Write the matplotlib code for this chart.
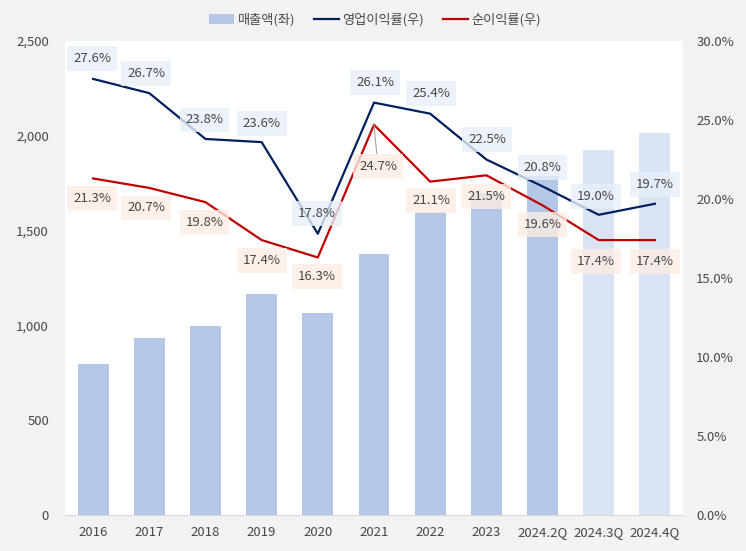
import matplotlib
matplotlib.use("Agg")
import matplotlib.pyplot as plt
from matplotlib.patches import Patch
from matplotlib.lines import Line2D

plt.rcParams['font.family'] = ['Noto Sans CJK KR', 'DejaVu Sans']

categories = ["2016", "2017", "2018", "2019", "2020", "2021", "2022", "2023",
              "2024.2Q", "2024.3Q", "2024.4Q"]
sales = [795, 932, 995, 1168, 1068, 1374, 1600, 1700, 1790, 1926, 2016]
op_margin = [27.6, 26.7, 23.8, 23.6, 17.8, 26.1, 25.4, 22.5, 20.8, 19.0, 19.7]
net_margin = [21.3, 20.7, 19.8, 17.4, 16.3, 24.7, 21.1, 21.5, 19.6, 17.4, 17.4]
forecast = [False] * 9 + [True, True]

left_ticks = [0, 500, 1000, 1500, 2000, 2500]
right_ticks = [0, 5, 10, 15, 20, 25, 30]

BAR = "#b4c7e7"
BAR_F = "#dae3f3"
NAVY = "#002060"
RED = "#c00000"
TXT = "#474747"

fig = plt.figure(figsize=(7.46, 5.51), dpi=100)
fig.patch.set_facecolor("#f2f2f2")
ax = fig.add_axes([65/746, 1-515/551, (683-65)/746, (515-41)/551])
ax.set_facecolor("white")

x = list(range(len(categories)))
colors = [BAR_F if f else BAR for f in forecast]
ax.bar(x, sales, width=0.55, color=colors, zorder=1)
ax.set_xlim(-0.5, len(categories) - 0.5)
ax.set_ylim(0, 2500)
ax.set_yticks(left_ticks)
ax.set_yticklabels([f"{v:,}" for v in left_ticks])
ax.set_xticks(x)
ax.set_xticklabels(categories)
for s in ["top", "right", "left"]:
    ax.spines[s].set_visible(False)
ax.spines["bottom"].set_color("#d9d9d9")
ax.tick_params(axis="both", length=0, labelsize=9.5, colors=TXT)
ax.tick_params(axis="y", pad=11.5)
ax.tick_params(axis="x", pad=8)

ax2 = ax.twinx()
ax2.set_ylim(0, 30)
ax2.set_yticks(right_ticks)
ax2.set_yticklabels([f"{v:.1f}%" for v in right_ticks])
for s in ax2.spines.values():
    s.set_visible(False)
ax2.tick_params(axis="y", length=0, labelsize=9.5, colors=TXT, pad=9.5)

ax2.plot(x, op_margin, color=NAVY, lw=1.6, zorder=3)
ax2.plot(x, net_margin, color=RED, lw=1.6, zorder=3)

px = 0.72  # points per pixel at 100 dpi
op_off = [(-1, 20), (-3, 20), (-1, 19), (0, 19), (-1, 20), (1, 20), (1, 20),
          (1, 20), (0, 19), (-3, 18), (0, 19)]
net_off = [(-1, -20), (-3, -20), (-1, -20), (0, -20), (-1, -19), (4, -42),
           (1, -19), (0, -21), (0, -19), (-3, -21), (0, -21)]

for i, v in enumerate(op_margin):
    dx, dy = op_off[i]
    ax2.annotate(f"{v:.1f}%", (i, v), xytext=(dx*px, dy*px), textcoords="offset points",
                 ha="center", va="center", fontsize=9.5, color=TXT, zorder=5,
                 bbox=dict(boxstyle="square,pad=0.45", fc="#e6eff9", ec="none", alpha=0.8))
for i, v in enumerate(net_margin):
    dx, dy = net_off[i]
    kw = {}
    if dy < -30:
        kw["arrowprops"] = dict(arrowstyle="-", color="#a6a6a6", lw=0.8,
                                shrinkA=0, shrinkB=0)
    ax2.annotate(f"{v:.1f}%", (i, v), xytext=(dx*px, dy*px), textcoords="offset points",
                 ha="center", va="center", fontsize=9.5, color=TXT, zorder=5,
                 bbox=dict(boxstyle="square,pad=0.45", fc="#fcede3", ec="none", alpha=0.8),
                 **kw)

handles = [Patch(facecolor=BAR, edgecolor="none"),
           Line2D([0], [0], color=NAVY, lw=1.6),
           Line2D([0], [0], color=RED, lw=1.6)]
labels = ["매출액(좌)", "영업이익률(우)", "순이익률(우)"]
fig.legend(handles, labels, loc="center", bbox_to_anchor=(375/746, 1-20/551), ncol=3,
           frameon=False, fontsize=9.5, handlelength=1.9, handletextpad=0.3,
           columnspacing=1.4, labelcolor=TXT)

fig.savefig("out.png", dpi=100, facecolor=fig.get_facecolor())
